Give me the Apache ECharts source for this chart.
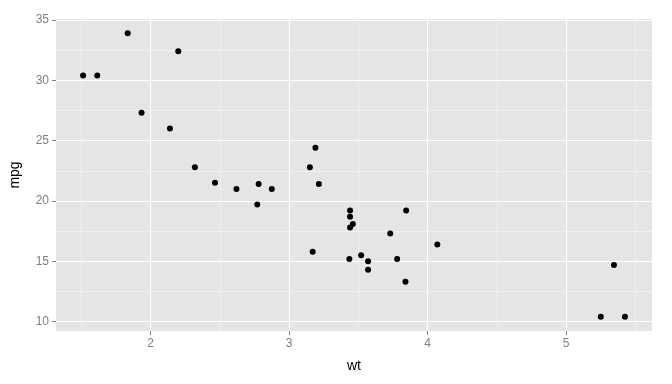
<!DOCTYPE html>
<html><head><meta charset="utf-8">
<script src="https://cdn.jsdelivr.net/npm/echarts@6/dist/echarts.min.js"></script>
<style>html,body{margin:0;padding:0;background:#fff}#c{width:672px;height:384px}</style>
</head><body><div id="c"></div>
<script>
const wt = [2.620, 2.875, 2.320, 3.215, 3.440, 3.460, 3.570, 3.190, 3.150, 3.440, 3.440, 4.070, 3.730, 3.780, 5.250, 5.424, 5.345, 2.200, 1.615, 1.835, 2.465, 3.520, 3.435, 3.840, 3.845, 1.935, 2.140, 1.513, 3.170, 2.770, 3.570, 2.780];
const mpg = [21.0, 21.0, 22.8, 21.4, 18.7, 18.1, 14.3, 24.4, 22.8, 19.2, 17.8, 16.4, 17.3, 15.2, 10.4, 10.4, 14.7, 32.4, 30.4, 33.9, 21.5, 15.5, 15.2, 13.3, 19.2, 27.3, 26.0, 30.4, 15.8, 19.7, 15.0, 21.4];
const xTicks = [2, 3, 4, 5];
const yTicks = [10, 15, 20, 25, 30, 35];
const xMinor = [1.5, 2.5, 3.5, 4.5, 5.5];
const yMinor = [12.5, 17.5, 22.5, 27.5, 32.5];

const xMin = 1.513 - 0.05 * (5.424 - 1.513), xMax = 5.424 + 0.05 * (5.424 - 1.513);
const yMin = 10.4 - 0.05 * (33.9 - 10.4), yMax = 33.9 + 0.05 * (33.9 - 10.4);

const chart = echarts.init(document.getElementById('c'), null, {renderer: 'canvas'});
const lbl = {color: '#7F7F7F', fontFamily: 'Liberation Sans', fontSize: 12};
const minorLines = [].concat(
  xMinor.map(v => ({xAxis: v})),
  yMinor.map(v => ({yAxis: v}))
);
chart.setOption({
  animation: false,
  grid: {left: 55, right: 20, top: 19, bottom: 53, show: true, backgroundColor: '#E5E5E5', borderWidth: 0},
  xAxis: {
    type: 'value', min: xMin, max: xMax,
    name: 'wt', nameLocation: 'middle', nameGap: 28,
    nameTextStyle: {color: '#000', fontFamily: 'Liberation Sans', fontSize: 14},
    axisLine: {show: false},
    axisTick: {show: true, length: 4, customValues: xTicks, lineStyle: {color: '#7F7F7F'}},
    axisLabel: Object.assign({customValues: xTicks, margin: 7}, lbl),
    splitLine: {show: true, lineStyle: {color: '#FFFFFF', width: 1.2}}
  },
  yAxis: {
    type: 'value', min: yMin, max: yMax,
    name: 'mpg', nameLocation: 'middle', nameGap: 34, nameRotate: 90,
    nameTextStyle: {color: '#000', fontFamily: 'Liberation Sans', fontSize: 14},
    axisLine: {show: false},
    axisTick: {show: true, length: 4, customValues: yTicks, lineStyle: {color: '#7F7F7F'}},
    axisLabel: Object.assign({customValues: yTicks, margin: 7}, lbl),
    splitLine: {show: true, lineStyle: {color: '#FFFFFF', width: 1.2}}
  },
  series: [{
    type: 'scatter',
    data: wt.map((w, i) => [w, mpg[i]]),
    symbol: 'circle', symbolSize: 6,
    itemStyle: {color: '#000', opacity: 1},
    emphasis: {disabled: true},
    markLine: {
      silent: true, symbol: ['none', 'none'], label: {show: false},
      lineStyle: {color: '#F2F2F2', width: 0.8, type: 'solid'},
      data: minorLines, z: 0
    }
  }]
});
</script></body></html>
